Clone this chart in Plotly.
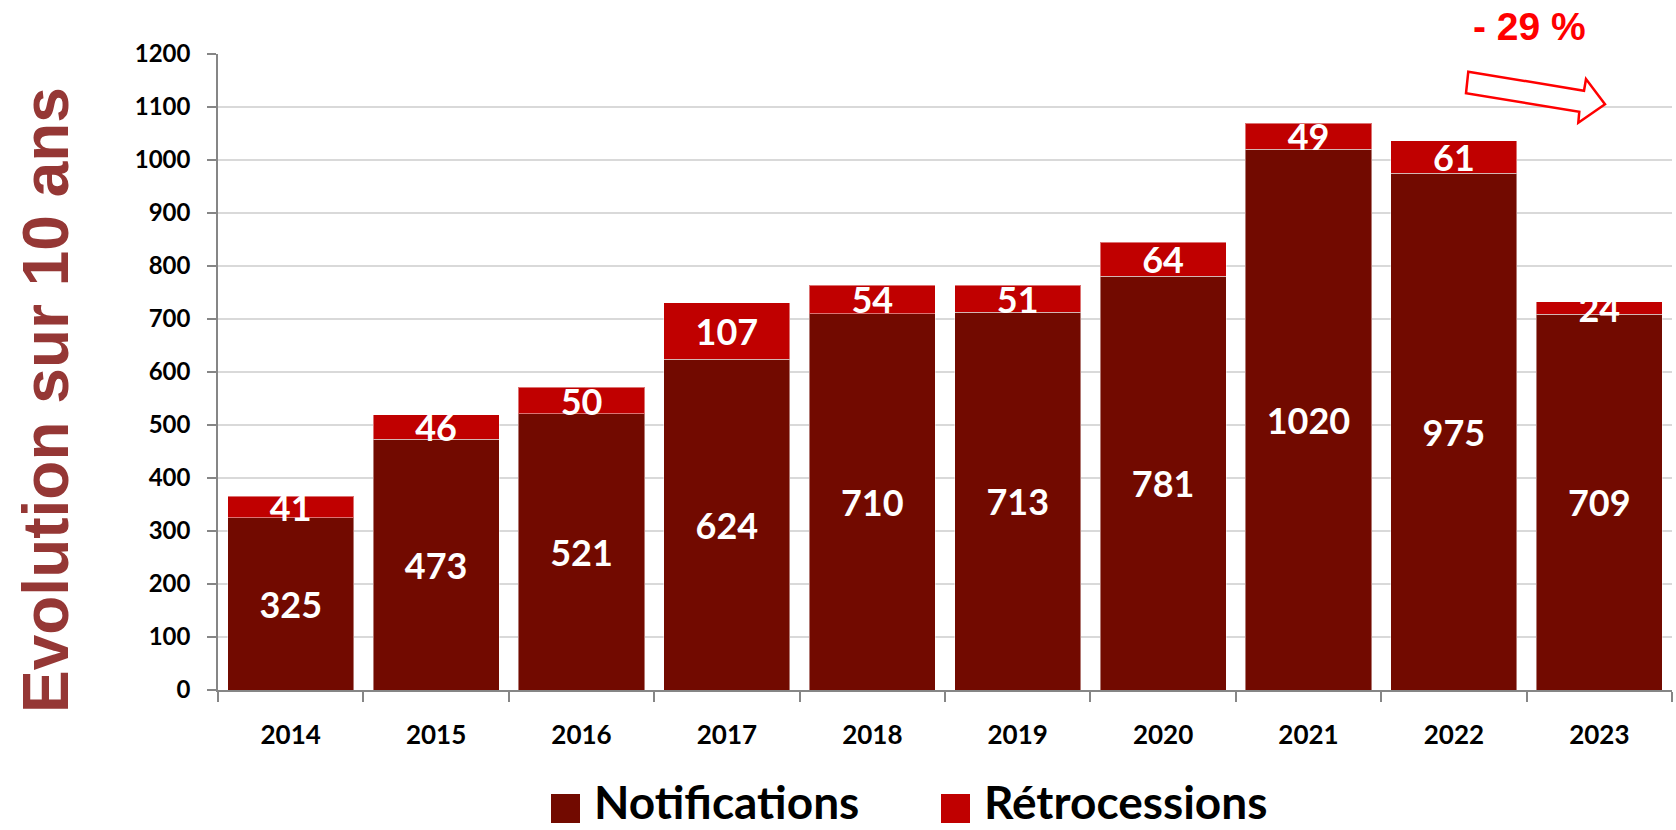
import plotly.graph_objects as go

years = ["2014", "2015", "2016", "2017", "2018", "2019", "2020", "2021", "2022", "2023"]
notifications = [325, 473, 521, 624, 710, 713, 781, 1020, 975, 709]
retrocessions = [41, 46, 50, 107, 54, 51, 64, 49, 61, 24]
y_ticks = list(range(0, 1300, 100))

W, H = 1676, 830
L, R, T, B = 218, 4, 54, 140
PW, PH = W - L - R, H - T - B

def px(x):
    return (x - L) / PW

def py(y):
    return (H - B - y) / PH

C_NOT = "#720A00"
C_RET = "#C00000"
LBL = "Lato"

fig = go.Figure()
fig.add_trace(go.Bar(
    x=years, y=notifications, name="Notifications",
    marker=dict(color=C_NOT, line=dict(color="rgba(255,255,255,0.45)", width=1)),
    text=[str(v) for v in notifications], textposition="inside",
    insidetextanchor="middle", textangle=0,
    textfont=dict(family=LBL, size=36, color="white", weight="bold"),
    showlegend=False,
))
fig.add_trace(go.Bar(
    x=years, y=retrocessions, name="Rétrocessions",
    marker=dict(color=C_RET, line=dict(color="rgba(255,255,255,0.45)", width=1)),
    text=[str(v) for v in retrocessions], textposition="inside",
    insidetextanchor="middle", textangle=0,
    textfont=dict(family=LBL, size=36, color="white", weight="bold"),
    showlegend=False,
))

fig.update_layout(
    width=W, height=H,
    margin=dict(l=L, r=R, t=T, b=B, pad=0),
    barmode="stack", bargap=0.133,
    plot_bgcolor="white", paper_bgcolor="white",
    uniformtext=dict(minsize=36, mode="show"),
    xaxis=dict(
        type="category", tickson="boundaries", ticks="outside", ticklen=10,
        tickcolor="#868686", tickwidth=1.5, showline=True, linecolor="#868686", linewidth=1.5,
        tickfont=dict(family=LBL, size=26, color="black", weight="bold"),
        ticklabelstandoff=21, showgrid=False,
    ),
    yaxis=dict(
        range=[0, 1200], tickvals=y_ticks, ticks="outside", ticklen=9,
        tickcolor="#868686", tickwidth=1.5, showline=True, linecolor="#868686", linewidth=1.5,
        gridcolor="#D9D9D9", gridwidth=1.5, zeroline=False,
        tickfont=dict(family=LBL, size=24, color="black", weight="bold"),
        ticklabelstandoff=12,
    ),
)

# Vertical title
fig.add_annotation(
    text="Evolution sur 10 ans", textangle=-90, showarrow=False,
    xref="paper", yref="paper", x=px(46), y=py(400), xanchor="center", yanchor="middle",
    font=dict(family="Liberation Sans", size=64, color="#953735", weight="bold"),
)

# -29 % label
fig.add_annotation(
    text="- 29 %", showarrow=False, borderpad=0,
    xref="paper", yref="paper", x=px(1529), y=py(26), xanchor="center", yanchor="middle",
    font=dict(family="Liberation Sans", size=39, color="#FF0000", weight="bold"),
)

# Block arrow
arrow_pts = [(1468.3, 71.7), (1584, 90.7), (1586, 79), (1605, 104.3),
             (1578.3, 122.7), (1579.3, 111.7), (1466, 93.3)]
path = "M " + " L ".join(f"{px(x):.5f},{py(y):.5f}" for x, y in arrow_pts) + " Z"
fig.add_shape(type="path", path=path, xref="paper", yref="paper",
              line=dict(color="#FF0000", width=2.5), fillcolor="white", layer="above")

# Custom legend
legend_items = [("Notifications", C_NOT, 551), ("Rétrocessions", C_RET, 941)]
for name, col, x0 in legend_items:
    fig.add_shape(type="rect", xref="paper", yref="paper",
                  x0=px(x0), x1=px(x0 + 29), y0=py(823), y1=py(794),
                  fillcolor=col, line=dict(width=0))
    fig.add_annotation(text=name, showarrow=False, borderpad=0,
                       xref="paper", yref="paper",
                       x=px(x0 + 42), y=py(801), xanchor="left", yanchor="middle",
                       font=dict(family=LBL, size=46, color="black", weight="bold"))

fig.write_html(
    "out.html",
    config={"displayModeBar": False},
    post_script="document.body.style.margin='0';document.body.style.overflow='hidden';",
)
